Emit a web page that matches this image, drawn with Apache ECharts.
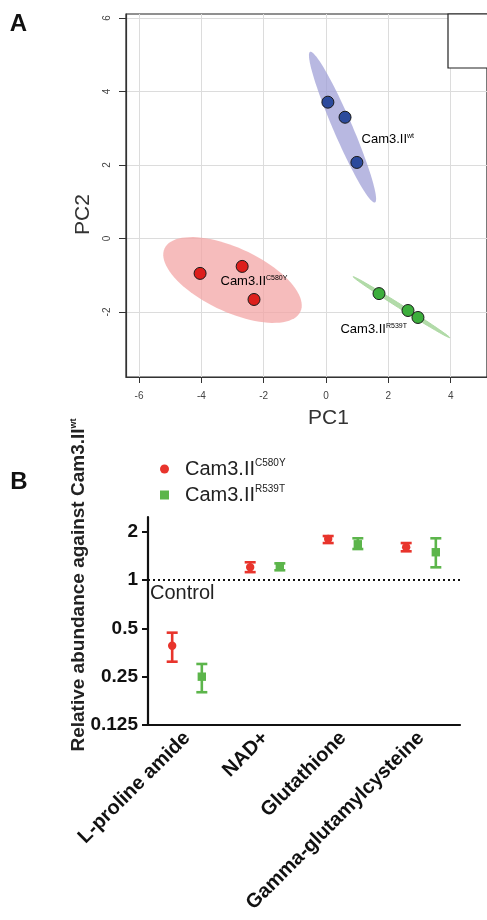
<!DOCTYPE html>
<html>
<head>
<meta charset="utf-8">
<script src="https://cdn.jsdelivr.net/npm/echarts@6/dist/echarts.min.js"></script>
<style>
  html, body { margin: 0; padding: 0; background: #fff; }
  #chart { width: 487px; height: 920px; }
</style>
</head>
<body>
<div id="chart"></div>
<script>
// ---- panel A: PCA scores ----
const groupNames = ['wt', 'C580Y', 'R539T']
const wtPC1 = [0.06, 0.61, 0.99]
const wtPC2 = [3.71, 3.30, 2.07]
const c580yPC1 = [-4.04, -2.69, -2.31]
const c580yPC2 = [-0.95, -0.76, -1.66]
const r539tPC1 = [1.70, 2.63, 2.95]
const r539tPC2 = [-1.50, -1.96, -2.15]
// confidence ellipses in PC units: centre, half major axis, half minor axis
const ellipseCenter = [[0.53, 3.03], [-3.0, -1.13], [2.42, -1.87]]
const ellipseMajor = [[1.04, -2.05], [2.18, -0.86], [1.55, -0.83]]
const ellipseMinor = [[0.28, 0.10], [-0.43, -0.79], [0.034, 0.046]]
const pcTicksX = [-6, -4, -2, 0, 2, 4]
const pcTicksY = [-2, 0, 2, 4, 6]

// ---- panel B: relative abundance ----
const metabolites = ['L-proline amide', 'NAD+', 'Glutathione', 'Gamma-glutamylcysteine']
const c580yMean = [0.39, 1.20, 1.80, 1.60]
const c580yLow = [0.31, 1.12, 1.70, 1.51]
const c580yHigh = [0.47, 1.29, 1.88, 1.70]
const r539tMean = [0.25, 1.22, 1.67, 1.49]
const r539tLow = [0.20, 1.15, 1.56, 1.20]
const r539tHigh = [0.30, 1.27, 1.82, 1.82]
const abundanceTicks = [0.125, 0.25, 0.5, 1, 2]

const FONT = 'Liberation Sans'
const RED = '#e8342c'
const GREEN = '#5cb54b'

const pcaColors = ['#2c4a9c', '#dd1f1c', '#3cae3c']
const ellipseFill = ['rgba(160,160,215,0.75)', 'rgba(243,165,165,0.75)', 'rgba(170,215,160,0.9)']
const labelOffset = [[19, 12], [-12, 1], [-61, 22]] // label position relative to ellipse centre (px)

const supRich = {
  m: { fontSize: 13, color: '#333', fontFamily: FONT },
  s: { fontSize: 7, color: '#333', fontFamily: FONT, verticalAlign: 'top', lineHeight: 8 }
}

function pcaScatter(xs, ys, color) {
  return {
    type: 'scatter',
    xAxisIndex: 0,
    yAxisIndex: 0,
    z: 5,
    symbolSize: 12,
    itemStyle: { color: color, borderColor: '#1a1a1a', borderWidth: 1, opacity: 1 },
    data: xs.map((x, i) => [x, ys[i]])
  }
}

function errorBarSeries(name, means, lows, highs, color, marker, shift) {
  return {
    type: 'custom',
    name: name,
    xAxisIndex: 1,
    yAxisIndex: 1,
    z: 5,
    itemStyle: { color: color },
    data: metabolites.map((m, i) => [i, means[i], lows[i], highs[i]]),
    encode: { x: 0, y: [1, 2, 3] },
    renderItem(params, api) {
      const band = api.size([1, 0])[0]
      const mid = api.coord([api.value(0), api.value(1)])
      const lo = api.coord([api.value(0), api.value(2)])
      const hi = api.coord([api.value(0), api.value(3)])
      const x = mid[0] + shift * band
      const cap = 5.5
      const line = { stroke: color, lineWidth: 2.6 }
      const children = [
        { type: 'line', shape: { x1: x, y1: lo[1], x2: x, y2: hi[1] }, style: line },
        { type: 'line', shape: { x1: x - cap, y1: lo[1], x2: x + cap, y2: lo[1] }, style: line },
        { type: 'line', shape: { x1: x - cap, y1: hi[1], x2: x + cap, y2: hi[1] }, style: line }
      ]
      if (marker === 'circle') {
        children.push({ type: 'circle', shape: { cx: x, cy: mid[1], r: 4.2 }, style: { fill: color } })
      } else {
        children.push({ type: 'rect', shape: { x: x - 4.2, y: mid[1] - 4.2, width: 8.4, height: 8.4 }, style: { fill: color } })
      }
      return { type: 'group', children: children }
    }
  }
}

const chart = echarts.init(document.getElementById('chart'), null, { renderer: 'canvas' })

chart.setOption({
  animation: false,
  backgroundColor: '#fff',
  textStyle: { fontFamily: FONT },
  grid: [
    { left: 126, top: 14, right: 0, bottom: 543, show: true, borderColor: '#222', borderWidth: 1.2, backgroundColor: 'transparent' },
    { left: 148, top: 517, right: 27, bottom: 195 }
  ],
  legend: {
    orient: 'vertical',
    left: 155,
    top: 453,
    itemWidth: 9,
    itemHeight: 9,
    itemGap: 5,
    data: [
      { name: 'C580Y', icon: 'circle' },
      { name: 'R539T', icon: 'rect' }
    ],
    formatter: name => '{g|}{m|Cam3.II}{s|' + name + '}',
    textStyle: {
      fontFamily: FONT,
      rich: {
        g: { width: 11 },
        m: { fontSize: 20, color: '#222', lineHeight: 22, fontFamily: FONT },
        s: { fontSize: 10, color: '#222', verticalAlign: 'top', lineHeight: 12, fontFamily: FONT }
      }
    }
  },
  xAxis: [
    {
      type: 'value',
      gridIndex: 0,
      min: -6.417,
      max: 5.165,
      name: 'PC1',
      nameLocation: 'middle',
      nameGap: 31,
      nameTextStyle: { fontSize: 21, color: '#333', fontFamily: FONT, padding: [0, 0, 0, 44] },
      axisLine: { onZero: false, lineStyle: { color: '#333', width: 1.2 } },
      axisTick: { show: true, length: 6, customValues: pcTicksX, lineStyle: { color: '#333' } },
      axisLabel: { customValues: pcTicksX, fontSize: 10, color: '#444', margin: 14 },
      splitLine: { show: true, lineStyle: { color: '#dcdcdc', width: 1 } }
    },
    {
      type: 'category',
      gridIndex: 1,
      data: metabolites,
      boundaryGap: true,
      axisLine: { lineStyle: { color: '#111', width: 2.2 } },
      axisTick: { alignWithLabel: true, length: 7, lineStyle: { color: '#111', width: 2.2 } },
      axisLabel: { interval: 0, rotate: 45, fontSize: 20, fontWeight: 'bold', color: '#111', margin: 10, fontFamily: FONT },
      splitLine: { show: false }
    }
  ],
  yAxis: [
    {
      type: 'value',
      gridIndex: 0,
      min: -3.77,
      max: 6.11,
      name: 'PC2',
      nameLocation: 'middle',
      nameGap: 29,
      nameRotate: 90,
      nameTextStyle: { fontSize: 21, color: '#333', fontFamily: FONT, padding: [0, 38, 0, 0] },
      axisLine: { show: true, onZero: false, lineStyle: { color: '#333', width: 1.2 } },
      axisTick: { show: true, length: 7, customValues: pcTicksY, lineStyle: { color: '#333' } },
      axisLabel: { customValues: pcTicksY, fontSize: 10, color: '#444', rotate: 90, margin: 14 },
      splitLine: { show: true, lineStyle: { color: '#dcdcdc', width: 1 } }
    },
    {
      type: 'log',
      logBase: 2,
      gridIndex: 1,
      min: 0.125,
      max: 2.47,
      name: '{m|Relative abundance against Cam3.II}{s|wt}',
      nameLocation: 'middle',
      nameRotate: 90,
      nameGap: 60,
      nameMoveOverlap: false,
      nameTextStyle: {
        padding: [0, 0, 0, 72],
        rich: {
          m: { fontSize: 19, fontWeight: 'bold', color: '#222', fontFamily: FONT },
          s: { fontSize: 9, fontWeight: 'bold', color: '#222', verticalAlign: 'top', lineHeight: 10, fontFamily: FONT }
        }
      },
      axisLine: { show: true, lineStyle: { color: '#111', width: 2.2 } },
      axisTick: { show: true, length: 6, customValues: abundanceTicks, lineStyle: { color: '#111', width: 2 } },
      axisLabel: {
        customValues: abundanceTicks,
        fontSize: 19,
        fontWeight: 'bold',
        color: '#111',
        margin: 10,
        fontFamily: FONT,
        formatter: v => String(+v.toPrecision(6))
      },
      splitLine: { show: false }
    }
  ],
  graphic: [
    { type: 'text', x: 18.5, y: 24, z: 10, style: { text: 'A', fontSize: 24, fontWeight: 'bold', fontFamily: FONT, fill: '#111', align: 'center', verticalAlign: 'middle' } },
    { type: 'text', x: 19, y: 482, z: 10, style: { text: 'B', fontSize: 24, fontWeight: 'bold', fontFamily: FONT, fill: '#111', align: 'center', verticalAlign: 'middle' } },
    { type: 'rect', x: 448, y: 14, z: 10, shape: { width: 60, height: 54 }, style: { fill: '#fff', stroke: '#222', lineWidth: 1.2 } }
  ],
  series: [
    {
      type: 'custom',
      xAxisIndex: 0,
      yAxisIndex: 0,
      z: 2,
      silent: true,
      data: ellipseCenter.map((c, i) => [c[0], c[1], i]),
      encode: { x: 0, y: 1 },
      renderItem(params, api) {
        const i = params.dataIndex
        const c = ellipseCenter[i]
        const M = ellipseMajor[i]
        const m = ellipseMinor[i]
        const pts = []
        for (let k = 0; k < 90; k++) {
          const t = (k / 90) * Math.PI * 2
          const ct = Math.cos(t)
          const st = Math.sin(t)
          pts.push(api.coord([c[0] + M[0] * ct + m[0] * st, c[1] + M[1] * ct + m[1] * st]))
        }
        const p = api.coord(c)
        return {
          type: 'group',
          children: [
            { type: 'polygon', shape: { points: pts }, style: { fill: ellipseFill[i], stroke: i === 2 ? ellipseFill[i] : null, lineWidth: 1 } },
            {
              type: 'text',
              x: p[0] + labelOffset[i][0],
              y: p[1] + labelOffset[i][1],
              z2: 10,
              style: { text: '{m|Cam3.II}{s|' + groupNames[i] + '}', rich: supRich, align: 'left', verticalAlign: 'middle' }
            }
          ]
        }
      }
    },
    pcaScatter(wtPC1, wtPC2, pcaColors[0]),
    pcaScatter(c580yPC1, c580yPC2, pcaColors[1]),
    pcaScatter(r539tPC1, r539tPC2, pcaColors[2]),
    Object.assign(errorBarSeries('C580Y', c580yMean, c580yLow, c580yHigh, RED, 'circle', -0.19), {
      markLine: {
        silent: true,
        symbol: 'none',
        lineStyle: { type: [2, 3], color: '#111', width: 2 },
        label: { show: true, position: 'insideStartBottom', formatter: 'Control', fontSize: 20, color: '#222', fontFamily: FONT, distance: [2, 3] },
        data: [{ yAxis: 1 }]
      }
    }),
    errorBarSeries('R539T', r539tMean, r539tLow, r539tHigh, GREEN, 'rect', 0.19)
  ]
})
</script>
</body>
</html>
